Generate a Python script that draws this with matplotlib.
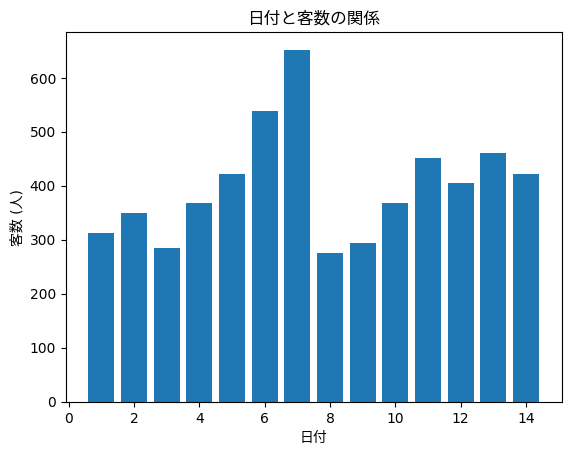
import matplotlib
matplotlib.use("Agg")
import matplotlib.pyplot as plt

plt.rcParams['font.family'] = ['DejaVu Sans', 'Noto Sans CJK JP']

days = list(range(1, 15))
visitors = [313, 349, 285, 369, 421, 538, 652, 275, 294, 369, 452, 406, 460, 422]

fig, ax = plt.subplots(figsize=(6.4, 4.8), dpi=100)
ax.bar(days, visitors)
ax.set_title("日付と客数の関係")
ax.set_xlabel("日付")
ax.set_ylabel("客数 (人)")

fig.savefig("out.png", bbox_inches="tight")
